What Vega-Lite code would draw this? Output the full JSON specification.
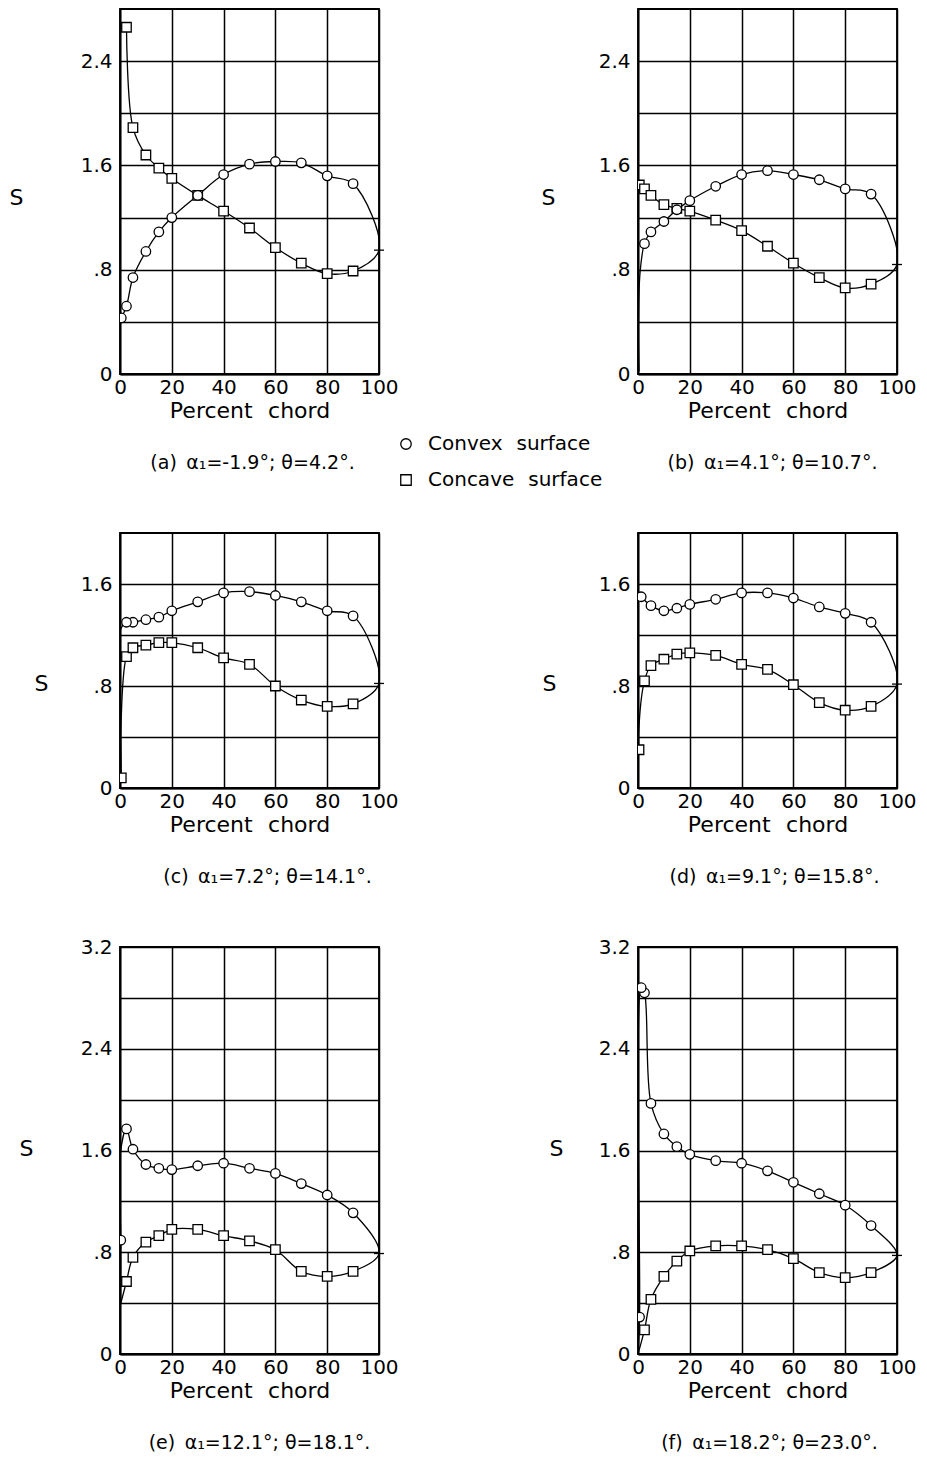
{
  "$schema": "https://vega.github.io/schema/vega-lite/v6.json",
  "background": "white",
  "padding": {"left": 8, "top": 8, "right": 5, "bottom": 5},
  "autosize": {"type": "pad"},
  "columns": 2,
  "spacing": {"row": 159, "column": 259},
  "bounds": "flush",
  "align": "each",
  "data": {
    "values": [
      {"p": "a", "seg": 1, "o": 1, "x": 2.5, "s": 2.66, "surf": "Concave surface"},
      {"p": "a", "seg": 1, "o": 2, "x": 5, "s": 1.89, "surf": "Concave surface"},
      {"p": "a", "seg": 1, "o": 3, "x": 10, "s": 1.68, "surf": "Concave surface"},
      {"p": "a", "seg": 1, "o": 4, "x": 15, "s": 1.58, "surf": "Concave surface"},
      {"p": "a", "seg": 1, "o": 5, "x": 20, "s": 1.5, "surf": "Concave surface"},
      {"p": "a", "seg": 1, "o": 6, "x": 30, "s": 1.37, "surf": "Concave surface"},
      {"p": "a", "seg": 1, "o": 7, "x": 40, "s": 1.25, "surf": "Concave surface"},
      {"p": "a", "seg": 1, "o": 8, "x": 50, "s": 1.12, "surf": "Concave surface"},
      {"p": "a", "seg": 1, "o": 9, "x": 60, "s": 0.97, "surf": "Concave surface"},
      {"p": "a", "seg": 1, "o": 10, "x": 70, "s": 0.85, "surf": "Concave surface"},
      {"p": "a", "seg": 1, "o": 11, "x": 80, "s": 0.77, "surf": "Concave surface"},
      {"p": "a", "seg": 1, "o": 12, "x": 90, "s": 0.79, "surf": "Concave surface"},
      {"p": "a", "seg": 1, "o": 13, "x": 100, "s": 0.95, "te": true},
      {"p": "a", "seg": 1, "o": 14, "x": 90, "s": 1.46, "surf": "Convex surface"},
      {"p": "a", "seg": 1, "o": 15, "x": 80, "s": 1.52, "surf": "Convex surface"},
      {"p": "a", "seg": 1, "o": 16, "x": 70, "s": 1.62, "surf": "Convex surface"},
      {"p": "a", "seg": 1, "o": 17, "x": 60, "s": 1.63, "surf": "Convex surface"},
      {"p": "a", "seg": 1, "o": 18, "x": 50, "s": 1.61, "surf": "Convex surface"},
      {"p": "a", "seg": 1, "o": 19, "x": 40, "s": 1.53, "surf": "Convex surface"},
      {"p": "a", "seg": 1, "o": 20, "x": 30, "s": 1.37, "surf": "Convex surface"},
      {"p": "a", "seg": 1, "o": 21, "x": 20, "s": 1.2, "surf": "Convex surface"},
      {"p": "a", "seg": 1, "o": 22, "x": 15, "s": 1.09, "surf": "Convex surface"},
      {"p": "a", "seg": 1, "o": 23, "x": 10, "s": 0.94, "surf": "Convex surface"},
      {"p": "a", "seg": 1, "o": 24, "x": 5, "s": 0.74, "surf": "Convex surface"},
      {"p": "a", "seg": 1, "o": 25, "x": 2.5, "s": 0.52, "surf": "Convex surface"},
      {"p": "a", "seg": 1, "o": 26, "x": 0.5, "s": 0.43, "surf": "Convex surface"},

      {"p": "b", "seg": 1, "o": 1, "x": 0.5, "s": 1.45, "surf": "Concave surface"},
      {"p": "b", "seg": 1, "o": 2, "x": 2.5, "s": 1.42, "surf": "Concave surface"},
      {"p": "b", "seg": 1, "o": 3, "x": 5, "s": 1.37, "surf": "Concave surface"},
      {"p": "b", "seg": 1, "o": 4, "x": 10, "s": 1.3, "surf": "Concave surface"},
      {"p": "b", "seg": 1, "o": 5, "x": 15, "s": 1.27, "surf": "Concave surface"},
      {"p": "b", "seg": 1, "o": 6, "x": 20, "s": 1.25, "surf": "Concave surface"},
      {"p": "b", "seg": 1, "o": 7, "x": 30, "s": 1.18, "surf": "Concave surface"},
      {"p": "b", "seg": 1, "o": 8, "x": 40, "s": 1.1, "surf": "Concave surface"},
      {"p": "b", "seg": 1, "o": 9, "x": 50, "s": 0.98, "surf": "Concave surface"},
      {"p": "b", "seg": 1, "o": 10, "x": 60, "s": 0.85, "surf": "Concave surface"},
      {"p": "b", "seg": 1, "o": 11, "x": 70, "s": 0.74, "surf": "Concave surface"},
      {"p": "b", "seg": 1, "o": 12, "x": 80, "s": 0.66, "surf": "Concave surface"},
      {"p": "b", "seg": 1, "o": 13, "x": 90, "s": 0.69, "surf": "Concave surface"},
      {"p": "b", "seg": 1, "o": 14, "x": 100, "s": 0.84, "te": true},
      {"p": "b", "seg": 1, "o": 15, "x": 90, "s": 1.38, "surf": "Convex surface"},
      {"p": "b", "seg": 1, "o": 16, "x": 80, "s": 1.42, "surf": "Convex surface"},
      {"p": "b", "seg": 1, "o": 17, "x": 70, "s": 1.49, "surf": "Convex surface"},
      {"p": "b", "seg": 1, "o": 18, "x": 60, "s": 1.53, "surf": "Convex surface"},
      {"p": "b", "seg": 1, "o": 19, "x": 50, "s": 1.56, "surf": "Convex surface"},
      {"p": "b", "seg": 1, "o": 20, "x": 40, "s": 1.53, "surf": "Convex surface"},
      {"p": "b", "seg": 1, "o": 21, "x": 30, "s": 1.44, "surf": "Convex surface"},
      {"p": "b", "seg": 1, "o": 22, "x": 20, "s": 1.33, "surf": "Convex surface"},
      {"p": "b", "seg": 1, "o": 23, "x": 15, "s": 1.26, "surf": "Convex surface"},
      {"p": "b", "seg": 1, "o": 24, "x": 10, "s": 1.17, "surf": "Convex surface"},
      {"p": "b", "seg": 1, "o": 25, "x": 5, "s": 1.09, "surf": "Convex surface"},
      {"p": "b", "seg": 1, "o": 26, "x": 2.5, "s": 1.0, "surf": "Convex surface"},
      {"p": "b", "seg": 1, "o": 27, "x": 0.8, "s": 0.78},
      {"p": "b", "seg": 1, "o": 28, "x": 0.2, "s": 0.4},
      {"p": "b", "seg": 1, "o": 29, "x": 0.4, "s": 0.02},

      {"p": "c", "seg": 1, "o": 1, "x": 0.3, "s": 0.4},
      {"p": "c", "seg": 1, "o": 2, "x": 2.5, "s": 1.03, "surf": "Concave surface"},
      {"p": "c", "seg": 1, "o": 3, "x": 5, "s": 1.1, "surf": "Concave surface"},
      {"p": "c", "seg": 1, "o": 4, "x": 10, "s": 1.12, "surf": "Concave surface"},
      {"p": "c", "seg": 1, "o": 5, "x": 15, "s": 1.14, "surf": "Concave surface"},
      {"p": "c", "seg": 1, "o": 6, "x": 20, "s": 1.14, "surf": "Concave surface"},
      {"p": "c", "seg": 1, "o": 7, "x": 30, "s": 1.1, "surf": "Concave surface"},
      {"p": "c", "seg": 1, "o": 8, "x": 40, "s": 1.02, "surf": "Concave surface"},
      {"p": "c", "seg": 1, "o": 9, "x": 50, "s": 0.97, "surf": "Concave surface"},
      {"p": "c", "seg": 1, "o": 10, "x": 60, "s": 0.8, "surf": "Concave surface"},
      {"p": "c", "seg": 1, "o": 11, "x": 70, "s": 0.69, "surf": "Concave surface"},
      {"p": "c", "seg": 1, "o": 12, "x": 80, "s": 0.64, "surf": "Concave surface"},
      {"p": "c", "seg": 1, "o": 13, "x": 90, "s": 0.66, "surf": "Concave surface"},
      {"p": "c", "seg": 1, "o": 14, "x": 100, "s": 0.82, "te": true},
      {"p": "c", "seg": 1, "o": 15, "x": 90, "s": 1.35, "surf": "Convex surface"},
      {"p": "c", "seg": 1, "o": 16, "x": 80, "s": 1.39, "surf": "Convex surface"},
      {"p": "c", "seg": 1, "o": 17, "x": 70, "s": 1.46, "surf": "Convex surface"},
      {"p": "c", "seg": 1, "o": 18, "x": 60, "s": 1.51, "surf": "Convex surface"},
      {"p": "c", "seg": 1, "o": 19, "x": 50, "s": 1.54, "surf": "Convex surface"},
      {"p": "c", "seg": 1, "o": 20, "x": 40, "s": 1.53, "surf": "Convex surface"},
      {"p": "c", "seg": 1, "o": 21, "x": 30, "s": 1.46, "surf": "Convex surface"},
      {"p": "c", "seg": 1, "o": 22, "x": 20, "s": 1.39, "surf": "Convex surface"},
      {"p": "c", "seg": 1, "o": 23, "x": 15, "s": 1.34, "surf": "Convex surface"},
      {"p": "c", "seg": 1, "o": 24, "x": 10, "s": 1.32, "surf": "Convex surface"},
      {"p": "c", "seg": 1, "o": 25, "x": 5, "s": 1.3, "surf": "Convex surface"},
      {"p": "c", "seg": 1, "o": 26, "x": 2.5, "s": 1.3, "surf": "Convex surface"},
      {"p": "c", "seg": 1, "o": 27, "x": 0.2, "s": 1.24},
      {"p": "c", "seg": 1, "o": 28, "x": 0.3, "s": 0.4},
      {"p": "c", "seg": 2, "o": 1, "x": 0.3, "s": 0.4},
      {"p": "c", "seg": 2, "o": 2, "x": 0.5, "s": 0.08, "surf": "Concave surface"},

      {"p": "d", "seg": 1, "o": 1, "x": 0.4, "s": 0.3, "surf": "Concave surface"},
      {"p": "d", "seg": 1, "o": 2, "x": 0.25, "s": 0.42},
      {"p": "d", "seg": 1, "o": 3, "x": 2.5, "s": 0.84, "surf": "Concave surface"},
      {"p": "d", "seg": 1, "o": 4, "x": 5, "s": 0.96, "surf": "Concave surface"},
      {"p": "d", "seg": 1, "o": 5, "x": 10, "s": 1.01, "surf": "Concave surface"},
      {"p": "d", "seg": 1, "o": 6, "x": 15, "s": 1.05, "surf": "Concave surface"},
      {"p": "d", "seg": 1, "o": 7, "x": 20, "s": 1.06, "surf": "Concave surface"},
      {"p": "d", "seg": 1, "o": 8, "x": 30, "s": 1.04, "surf": "Concave surface"},
      {"p": "d", "seg": 1, "o": 9, "x": 40, "s": 0.97, "surf": "Concave surface"},
      {"p": "d", "seg": 1, "o": 10, "x": 50, "s": 0.93, "surf": "Concave surface"},
      {"p": "d", "seg": 1, "o": 11, "x": 60, "s": 0.81, "surf": "Concave surface"},
      {"p": "d", "seg": 1, "o": 12, "x": 70, "s": 0.67, "surf": "Concave surface"},
      {"p": "d", "seg": 1, "o": 13, "x": 80, "s": 0.61, "surf": "Concave surface"},
      {"p": "d", "seg": 1, "o": 14, "x": 90, "s": 0.64, "surf": "Concave surface"},
      {"p": "d", "seg": 1, "o": 15, "x": 100, "s": 0.815, "te": true},
      {"p": "d", "seg": 1, "o": 16, "x": 90, "s": 1.3, "surf": "Convex surface"},
      {"p": "d", "seg": 1, "o": 17, "x": 80, "s": 1.37, "surf": "Convex surface"},
      {"p": "d", "seg": 1, "o": 18, "x": 70, "s": 1.42, "surf": "Convex surface"},
      {"p": "d", "seg": 1, "o": 19, "x": 60, "s": 1.49, "surf": "Convex surface"},
      {"p": "d", "seg": 1, "o": 20, "x": 50, "s": 1.53, "surf": "Convex surface"},
      {"p": "d", "seg": 1, "o": 21, "x": 40, "s": 1.53, "surf": "Convex surface"},
      {"p": "d", "seg": 1, "o": 22, "x": 30, "s": 1.48, "surf": "Convex surface"},
      {"p": "d", "seg": 1, "o": 23, "x": 20, "s": 1.44, "surf": "Convex surface"},
      {"p": "d", "seg": 1, "o": 24, "x": 15, "s": 1.41, "surf": "Convex surface"},
      {"p": "d", "seg": 1, "o": 25, "x": 10, "s": 1.39, "surf": "Convex surface"},
      {"p": "d", "seg": 1, "o": 26, "x": 5, "s": 1.43, "surf": "Convex surface"},
      {"p": "d", "seg": 1, "o": 27, "x": 1.25, "s": 1.5, "surf": "Convex surface"},

      {"p": "e", "seg": 1, "o": 1, "x": 0.2, "s": 0.39},
      {"p": "e", "seg": 1, "o": 2, "x": 2.5, "s": 0.57, "surf": "Concave surface"},
      {"p": "e", "seg": 1, "o": 3, "x": 5, "s": 0.76, "surf": "Concave surface"},
      {"p": "e", "seg": 1, "o": 4, "x": 10, "s": 0.88, "surf": "Concave surface"},
      {"p": "e", "seg": 1, "o": 5, "x": 15, "s": 0.93, "surf": "Concave surface"},
      {"p": "e", "seg": 1, "o": 6, "x": 20, "s": 0.98, "surf": "Concave surface"},
      {"p": "e", "seg": 1, "o": 7, "x": 30, "s": 0.98, "surf": "Concave surface"},
      {"p": "e", "seg": 1, "o": 8, "x": 40, "s": 0.93, "surf": "Concave surface"},
      {"p": "e", "seg": 1, "o": 9, "x": 50, "s": 0.89, "surf": "Concave surface"},
      {"p": "e", "seg": 1, "o": 10, "x": 60, "s": 0.82, "surf": "Concave surface"},
      {"p": "e", "seg": 1, "o": 11, "x": 70, "s": 0.65, "surf": "Concave surface"},
      {"p": "e", "seg": 1, "o": 12, "x": 80, "s": 0.61, "surf": "Concave surface"},
      {"p": "e", "seg": 1, "o": 13, "x": 90, "s": 0.65, "surf": "Concave surface"},
      {"p": "e", "seg": 1, "o": 14, "x": 100, "s": 0.79, "te": true},
      {"p": "e", "seg": 1, "o": 15, "x": 90, "s": 1.11, "surf": "Convex surface"},
      {"p": "e", "seg": 1, "o": 16, "x": 80, "s": 1.25, "surf": "Convex surface"},
      {"p": "e", "seg": 1, "o": 17, "x": 70, "s": 1.34, "surf": "Convex surface"},
      {"p": "e", "seg": 1, "o": 18, "x": 60, "s": 1.42, "surf": "Convex surface"},
      {"p": "e", "seg": 1, "o": 19, "x": 50, "s": 1.46, "surf": "Convex surface"},
      {"p": "e", "seg": 1, "o": 20, "x": 40, "s": 1.5, "surf": "Convex surface"},
      {"p": "e", "seg": 1, "o": 21, "x": 30, "s": 1.48, "surf": "Convex surface"},
      {"p": "e", "seg": 1, "o": 22, "x": 20, "s": 1.45, "surf": "Convex surface"},
      {"p": "e", "seg": 1, "o": 23, "x": 15, "s": 1.46, "surf": "Convex surface"},
      {"p": "e", "seg": 1, "o": 24, "x": 10, "s": 1.49, "surf": "Convex surface"},
      {"p": "e", "seg": 1, "o": 25, "x": 5, "s": 1.61, "surf": "Convex surface"},
      {"p": "e", "seg": 1, "o": 26, "x": 2.5, "s": 1.77, "surf": "Convex surface"},
      {"p": "e", "seg": 1, "o": 27, "x": 0.1, "s": 1.57},
      {"p": "e", "seg": 1, "o": 28, "x": 0.3, "s": 0.895, "surf": "Convex surface"},
      {"p": "e", "seg": 1, "o": 29, "x": 0.2, "s": 0.39},

      {"p": "f", "seg": 1, "o": 1, "x": 0, "s": 0},
      {"p": "f", "seg": 1, "o": 2, "x": 2.5, "s": 0.19, "surf": "Concave surface"},
      {"p": "f", "seg": 1, "o": 3, "x": 5, "s": 0.43, "surf": "Concave surface"},
      {"p": "f", "seg": 1, "o": 4, "x": 10, "s": 0.61, "surf": "Concave surface"},
      {"p": "f", "seg": 1, "o": 5, "x": 15, "s": 0.73, "surf": "Concave surface"},
      {"p": "f", "seg": 1, "o": 6, "x": 20, "s": 0.81, "surf": "Concave surface"},
      {"p": "f", "seg": 1, "o": 7, "x": 30, "s": 0.85, "surf": "Concave surface"},
      {"p": "f", "seg": 1, "o": 8, "x": 40, "s": 0.85, "surf": "Concave surface"},
      {"p": "f", "seg": 1, "o": 9, "x": 50, "s": 0.82, "surf": "Concave surface"},
      {"p": "f", "seg": 1, "o": 10, "x": 60, "s": 0.75, "surf": "Concave surface"},
      {"p": "f", "seg": 1, "o": 11, "x": 70, "s": 0.64, "surf": "Concave surface"},
      {"p": "f", "seg": 1, "o": 12, "x": 80, "s": 0.6, "surf": "Concave surface"},
      {"p": "f", "seg": 1, "o": 13, "x": 90, "s": 0.64, "surf": "Concave surface"},
      {"p": "f", "seg": 1, "o": 14, "x": 100, "s": 0.775, "te": true},
      {"p": "f", "seg": 1, "o": 15, "x": 90, "s": 1.01, "surf": "Convex surface"},
      {"p": "f", "seg": 1, "o": 16, "x": 80, "s": 1.17, "surf": "Convex surface"},
      {"p": "f", "seg": 1, "o": 17, "x": 70, "s": 1.26, "surf": "Convex surface"},
      {"p": "f", "seg": 1, "o": 18, "x": 60, "s": 1.35, "surf": "Convex surface"},
      {"p": "f", "seg": 1, "o": 19, "x": 50, "s": 1.44, "surf": "Convex surface"},
      {"p": "f", "seg": 1, "o": 20, "x": 40, "s": 1.5, "surf": "Convex surface"},
      {"p": "f", "seg": 1, "o": 21, "x": 30, "s": 1.52, "surf": "Convex surface"},
      {"p": "f", "seg": 1, "o": 22, "x": 20, "s": 1.57, "surf": "Convex surface"},
      {"p": "f", "seg": 1, "o": 23, "x": 15, "s": 1.63, "surf": "Convex surface"},
      {"p": "f", "seg": 1, "o": 24, "x": 10, "s": 1.73, "surf": "Convex surface"},
      {"p": "f", "seg": 1, "o": 25, "x": 5, "s": 1.97, "surf": "Convex surface"},
      {"p": "f", "seg": 1, "o": 26, "x": 2.5, "s": 2.84, "surf": "Convex surface"},
      {"p": "f", "seg": 1, "o": 27, "x": 1.25, "s": 2.88, "surf": "Convex surface"},
      {"p": "f", "seg": 1, "o": 28, "x": 0.6, "s": 0.29, "surf": "Convex surface"},
      {"p": "f", "seg": 1, "o": 29, "x": 0, "s": 0}
    ]
  },
  "concat": [
    {
      "width": 259, "height": 365,
      "transform": [{"filter": "datum.p == 'a'"}],
      "title": {"text": "(a)\u2002α₁=-1.9°; θ=4.2°.", "dx": 3},
      "encoding": {
        "x": {"field": "x", "type": "quantitative", "scale": {"domain": [0, 100], "nice": false, "zero": false},
              "axis": {"values": [0, 20, 40, 60, 80, 100], "title": "Percent\u2002\u2009chord"}},
        "y": {"field": "s", "type": "quantitative", "scale": {"domain": [0, 2.8], "nice": false},
              "axis": {"values": [0, 0.4, 0.8, 1.2, 1.6, 2.0, 2.4],
                       "labelExpr": "round(datum.value*10)%8==0 ? (datum.value==0 ? '0' : datum.value<1 ? '.8' : format(datum.value,'.1f')) : ''",
                       "title": "S", "titleX": -104, "titleY": 188}}
      },
      "layer": [
        {"transform": [{"filter": "isValid(datum.o)"}],
         "mark": {"type": "line", "interpolate": "catmull-rom", "clip": true, "color": "black", "strokeWidth": 1.3},
         "encoding": {"order": {"field": "o", "type": "quantitative"}, "detail": {"field": "seg", "type": "nominal"}}},
        {"transform": [{"filter": "datum.te === true"}],
         "mark": {"type": "point", "shape": "stroke", "size": 100, "stroke": "black", "strokeWidth": 1.3, "opacity": 1},
         "encoding": {}},
        {"transform": [{"filter": "isValid(datum.surf)"}],
         "mark": {"type": "point", "filled": true, "strokeWidth": 1.3, "size": 90, "opacity": 1, "clip": true},
         "encoding": {
           "shape": {"field": "surf", "type": "nominal", "scale": {"domain": ["Convex surface", "Concave surface"], "range": ["circle", "square"]},
                     "legend": {"title": null, "labelExpr": "replace(datum.label, ' ', '\u2002\u2009')"}},
           "fill": {"field": "surf", "type": "nominal", "scale": {"domain": ["Convex surface", "Concave surface"], "range": ["white", "white"]},
                    "legend": {"title": null, "labelExpr": "replace(datum.label, ' ', '\u2002\u2009')"}},
           "stroke": {"field": "surf", "type": "nominal", "scale": {"domain": ["Convex surface", "Concave surface"], "range": ["black", "black"]},
                      "legend": {"title": null, "labelExpr": "replace(datum.label, ' ', '\u2002\u2009')"}}
         }}
      ]
    },
    {
      "width": 259, "height": 365,
      "transform": [{"filter": "datum.p == 'b'"}],
      "title": {"text": "(b)\u2002α₁=4.1°; θ=10.7°.", "dx": 5},
      "encoding": {
        "x": {"field": "x", "type": "quantitative", "scale": {"domain": [0, 100], "nice": false, "zero": false},
              "axis": {"values": [0, 20, 40, 60, 80, 100], "title": "Percent\u2002\u2009chord"}},
        "y": {"field": "s", "type": "quantitative", "scale": {"domain": [0, 2.8], "nice": false},
              "axis": {"values": [0, 0.4, 0.8, 1.2, 1.6, 2.0, 2.4],
                       "labelExpr": "round(datum.value*10)%8==0 ? (datum.value==0 ? '0' : datum.value<1 ? '.8' : format(datum.value,'.1f')) : ''",
                       "title": "S", "titleX": -90, "titleY": 188}}
      },
      "layer": [
        {"transform": [{"filter": "isValid(datum.o)"}],
         "mark": {"type": "line", "interpolate": "catmull-rom", "clip": true, "color": "black", "strokeWidth": 1.3},
         "encoding": {"order": {"field": "o", "type": "quantitative"}, "detail": {"field": "seg", "type": "nominal"}}},
        {"transform": [{"filter": "datum.te === true"}],
         "mark": {"type": "point", "shape": "stroke", "size": 100, "stroke": "black", "strokeWidth": 1.3, "opacity": 1},
         "encoding": {}},
        {"transform": [{"filter": "isValid(datum.surf)"}],
         "mark": {"type": "point", "filled": true, "strokeWidth": 1.3, "size": 90, "opacity": 1, "clip": true},
         "encoding": {
           "shape": {"field": "surf", "type": "nominal", "scale": {"domain": ["Convex surface", "Concave surface"], "range": ["circle", "square"]},
                     "legend": {"title": null, "labelExpr": "replace(datum.label, ' ', '\u2002\u2009')"}},
           "fill": {"field": "surf", "type": "nominal", "scale": {"domain": ["Convex surface", "Concave surface"], "range": ["white", "white"]},
                    "legend": {"title": null, "labelExpr": "replace(datum.label, ' ', '\u2002\u2009')"}},
           "stroke": {"field": "surf", "type": "nominal", "scale": {"domain": ["Convex surface", "Concave surface"], "range": ["black", "black"]},
                      "legend": {"title": null, "labelExpr": "replace(datum.label, ' ', '\u2002\u2009')"}}
         }}
      ]
    },
    {
      "width": 259, "height": 255,
      "transform": [{"filter": "datum.p == 'c'"}],
      "title": {"text": "(c)\u2002α₁=7.2°; θ=14.1°.", "dx": 18},
      "encoding": {
        "x": {"field": "x", "type": "quantitative", "scale": {"domain": [0, 100], "nice": false, "zero": false},
              "axis": {"values": [0, 20, 40, 60, 80, 100], "title": "Percent\u2002\u2009chord"}},
        "y": {"field": "s", "type": "quantitative", "scale": {"domain": [0, 2.0], "nice": false},
              "axis": {"values": [0, 0.4, 0.8, 1.2, 1.6],
                       "labelExpr": "round(datum.value*10)%8==0 ? (datum.value==0 ? '0' : datum.value<1 ? '.8' : format(datum.value,'.1f')) : ''",
                       "title": "S", "titleX": -79, "titleY": 150}}
      },
      "layer": [
        {"transform": [{"filter": "isValid(datum.o)"}],
         "mark": {"type": "line", "interpolate": "catmull-rom", "clip": true, "color": "black", "strokeWidth": 1.3},
         "encoding": {"order": {"field": "o", "type": "quantitative"}, "detail": {"field": "seg", "type": "nominal"}}},
        {"transform": [{"filter": "datum.te === true"}],
         "mark": {"type": "point", "shape": "stroke", "size": 100, "stroke": "black", "strokeWidth": 1.3, "opacity": 1},
         "encoding": {}},
        {"transform": [{"filter": "isValid(datum.surf)"}],
         "mark": {"type": "point", "filled": true, "strokeWidth": 1.3, "size": 90, "opacity": 1, "clip": true},
         "encoding": {
           "shape": {"field": "surf", "type": "nominal", "scale": {"domain": ["Convex surface", "Concave surface"], "range": ["circle", "square"]},
                     "legend": {"title": null, "labelExpr": "replace(datum.label, ' ', '\u2002\u2009')"}},
           "fill": {"field": "surf", "type": "nominal", "scale": {"domain": ["Convex surface", "Concave surface"], "range": ["white", "white"]},
                    "legend": {"title": null, "labelExpr": "replace(datum.label, ' ', '\u2002\u2009')"}},
           "stroke": {"field": "surf", "type": "nominal", "scale": {"domain": ["Convex surface", "Concave surface"], "range": ["black", "black"]},
                      "legend": {"title": null, "labelExpr": "replace(datum.label, ' ', '\u2002\u2009')"}}
         }}
      ]
    },
    {
      "width": 259, "height": 255,
      "transform": [{"filter": "datum.p == 'd'"}],
      "title": {"text": "(d)\u2002α₁=9.1°; θ=15.8°.", "dx": 7},
      "encoding": {
        "x": {"field": "x", "type": "quantitative", "scale": {"domain": [0, 100], "nice": false, "zero": false},
              "axis": {"values": [0, 20, 40, 60, 80, 100], "title": "Percent\u2002\u2009chord"}},
        "y": {"field": "s", "type": "quantitative", "scale": {"domain": [0, 2.0], "nice": false},
              "axis": {"values": [0, 0.4, 0.8, 1.2, 1.6],
                       "labelExpr": "round(datum.value*10)%8==0 ? (datum.value==0 ? '0' : datum.value<1 ? '.8' : format(datum.value,'.1f')) : ''",
                       "title": "S", "titleX": -89, "titleY": 150}}
      },
      "layer": [
        {"transform": [{"filter": "isValid(datum.o)"}],
         "mark": {"type": "line", "interpolate": "catmull-rom", "clip": true, "color": "black", "strokeWidth": 1.3},
         "encoding": {"order": {"field": "o", "type": "quantitative"}, "detail": {"field": "seg", "type": "nominal"}}},
        {"transform": [{"filter": "datum.te === true"}],
         "mark": {"type": "point", "shape": "stroke", "size": 100, "stroke": "black", "strokeWidth": 1.3, "opacity": 1},
         "encoding": {}},
        {"transform": [{"filter": "isValid(datum.surf)"}],
         "mark": {"type": "point", "filled": true, "strokeWidth": 1.3, "size": 90, "opacity": 1, "clip": true},
         "encoding": {
           "shape": {"field": "surf", "type": "nominal", "scale": {"domain": ["Convex surface", "Concave surface"], "range": ["circle", "square"]},
                     "legend": {"title": null, "labelExpr": "replace(datum.label, ' ', '\u2002\u2009')"}},
           "fill": {"field": "surf", "type": "nominal", "scale": {"domain": ["Convex surface", "Concave surface"], "range": ["white", "white"]},
                    "legend": {"title": null, "labelExpr": "replace(datum.label, ' ', '\u2002\u2009')"}},
           "stroke": {"field": "surf", "type": "nominal", "scale": {"domain": ["Convex surface", "Concave surface"], "range": ["black", "black"]},
                      "legend": {"title": null, "labelExpr": "replace(datum.label, ' ', '\u2002\u2009')"}}
         }}
      ]
    },
    {
      "width": 259, "height": 407,
      "transform": [{"filter": "datum.p == 'e'"}],
      "title": {"text": "(e)\u2002α₁=12.1°; θ=18.1°.", "dx": 10},
      "encoding": {
        "x": {"field": "x", "type": "quantitative", "scale": {"domain": [0, 100], "nice": false, "zero": false},
              "axis": {"values": [0, 20, 40, 60, 80, 100], "title": "Percent\u2002\u2009chord"}},
        "y": {"field": "s", "type": "quantitative", "scale": {"domain": [0, 3.2], "nice": false},
              "axis": {"values": [0, 0.4, 0.8, 1.2, 1.6, 2.0, 2.4, 2.8, 3.2],
                       "labelExpr": "round(datum.value*10)%8==0 ? (datum.value==0 ? '0' : datum.value<1 ? '.8' : format(datum.value,'.1f')) : ''",
                       "title": "S", "titleX": -94, "titleY": 201}}
      },
      "layer": [
        {"transform": [{"filter": "isValid(datum.o)"}],
         "mark": {"type": "line", "interpolate": "catmull-rom", "clip": true, "color": "black", "strokeWidth": 1.3},
         "encoding": {"order": {"field": "o", "type": "quantitative"}, "detail": {"field": "seg", "type": "nominal"}}},
        {"transform": [{"filter": "datum.te === true"}],
         "mark": {"type": "point", "shape": "stroke", "size": 100, "stroke": "black", "strokeWidth": 1.3, "opacity": 1},
         "encoding": {}},
        {"transform": [{"filter": "isValid(datum.surf)"}],
         "mark": {"type": "point", "filled": true, "strokeWidth": 1.3, "size": 90, "opacity": 1, "clip": true},
         "encoding": {
           "shape": {"field": "surf", "type": "nominal", "scale": {"domain": ["Convex surface", "Concave surface"], "range": ["circle", "square"]},
                     "legend": {"title": null, "labelExpr": "replace(datum.label, ' ', '\u2002\u2009')"}},
           "fill": {"field": "surf", "type": "nominal", "scale": {"domain": ["Convex surface", "Concave surface"], "range": ["white", "white"]},
                    "legend": {"title": null, "labelExpr": "replace(datum.label, ' ', '\u2002\u2009')"}},
           "stroke": {"field": "surf", "type": "nominal", "scale": {"domain": ["Convex surface", "Concave surface"], "range": ["black", "black"]},
                      "legend": {"title": null, "labelExpr": "replace(datum.label, ' ', '\u2002\u2009')"}}
         }}
      ]
    },
    {
      "width": 259, "height": 407,
      "transform": [{"filter": "datum.p == 'f'"}],
      "title": {"text": "(f)\u2002α₁=18.2°; θ=23.0°.", "dx": 2},
      "encoding": {
        "x": {"field": "x", "type": "quantitative", "scale": {"domain": [0, 100], "nice": false, "zero": false},
              "axis": {"values": [0, 20, 40, 60, 80, 100], "title": "Percent\u2002\u2009chord"}},
        "y": {"field": "s", "type": "quantitative", "scale": {"domain": [0, 3.2], "nice": false},
              "axis": {"values": [0, 0.4, 0.8, 1.2, 1.6, 2.0, 2.4, 2.8, 3.2],
                       "labelExpr": "round(datum.value*10)%8==0 ? (datum.value==0 ? '0' : datum.value<1 ? '.8' : format(datum.value,'.1f')) : ''",
                       "title": "S", "titleX": -82, "titleY": 201}}
      },
      "layer": [
        {"transform": [{"filter": "isValid(datum.o)"}],
         "mark": {"type": "line", "interpolate": "catmull-rom", "clip": true, "color": "black", "strokeWidth": 1.3},
         "encoding": {"order": {"field": "o", "type": "quantitative"}, "detail": {"field": "seg", "type": "nominal"}}},
        {"transform": [{"filter": "datum.te === true"}],
         "mark": {"type": "point", "shape": "stroke", "size": 100, "stroke": "black", "strokeWidth": 1.3, "opacity": 1},
         "encoding": {}},
        {"transform": [{"filter": "isValid(datum.surf)"}],
         "mark": {"type": "point", "filled": true, "strokeWidth": 1.3, "size": 90, "opacity": 1, "clip": true},
         "encoding": {
           "shape": {"field": "surf", "type": "nominal", "scale": {"domain": ["Convex surface", "Concave surface"], "range": ["circle", "square"]},
                     "legend": {"title": null, "labelExpr": "replace(datum.label, ' ', '\u2002\u2009')"}},
           "fill": {"field": "surf", "type": "nominal", "scale": {"domain": ["Convex surface", "Concave surface"], "range": ["white", "white"]},
                    "legend": {"title": null, "labelExpr": "replace(datum.label, ' ', '\u2002\u2009')"}},
           "stroke": {"field": "surf", "type": "nominal", "scale": {"domain": ["Convex surface", "Concave surface"], "range": ["black", "black"]},
                      "legend": {"title": null, "labelExpr": "replace(datum.label, ' ', '\u2002\u2009')"}}
         }}
      ]
    }
  ],
  "config": {
    "font": "DejaVu Sans",
    "view": {"stroke": "black", "strokeWidth": 1.8},
    "axis": {
      "domainColor": "black", "domainWidth": 1.8,
      "grid": true, "gridColor": "black", "gridWidth": 1.5, "gridOpacity": 1,
      "ticks": false,
      "labelFont": "DejaVu Sans", "labelFontSize": 20, "labelColor": "black", "labelPadding": 3,
      "labelFlush": false, "labelOverlap": false,
      "titleFont": "DejaVu Sans", "titleFontSize": 22, "titleFontWeight": "normal", "titleColor": "black"
    },
    "axisX": {"titlePadding": 3},
    "axisY": {"titleAngle": 0, "titleAlign": "center", "titleBaseline": "middle", "labelPadding": 8},
    "title": {"font": "DejaVu Sans", "fontSize": 19, "fontWeight": "normal", "color": "black", "orient": "bottom", "anchor": "middle", "offset": 33},
    "legend": {
      "orient": "none", "legendX": 276, "legendY": 425, "padding": 0, "rowPadding": 16,
      "symbolSize": 110, "symbolStrokeWidth": 1.3,
      "labelFont": "DejaVu Sans", "labelFontSize": 20, "labelColor": "black", "labelOffset": 12, "labelLimit": 300
    }
  }
}
